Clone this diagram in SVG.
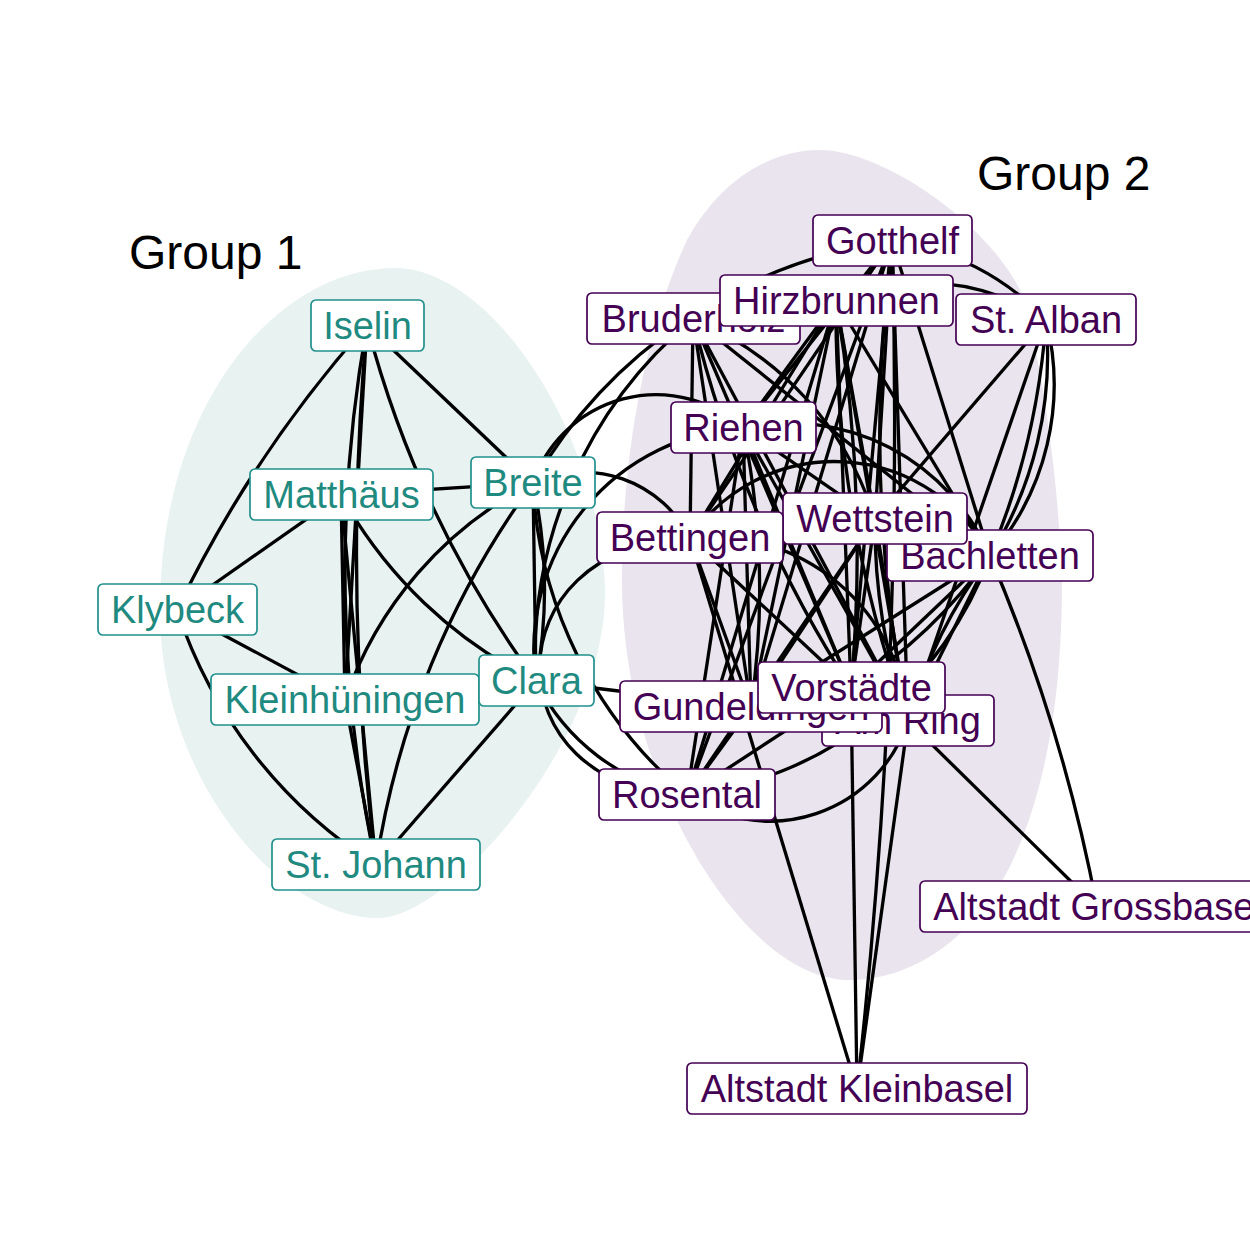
<svg xmlns="http://www.w3.org/2000/svg" width="1250" height="1250" viewBox="0 0 1250 1250">
<style>
.e{fill:none;stroke:#000;stroke-width:3.3}
.b1{fill:#fff;stroke:#21908C;stroke-width:1.7}
.b2{fill:#fff;stroke:#440154;stroke-width:1.7}
.t1{font-family:"Liberation Sans",Arial,sans-serif;font-size:38px;fill:#1f8a80;text-anchor:middle}
.t2{font-family:"Liberation Sans",Arial,sans-serif;font-size:38px;fill:#440154;text-anchor:middle}
.title{font-family:"Liberation Sans",Arial,sans-serif;font-size:48px;fill:#000}
</style>
<rect width="1250" height="1250" fill="#fff"/>
<g id="hulls">
<path id="hull1" fill="#e8f2f1" d="M395,268 C490,268 600,430 605,590 C607,740 450,918 378,918 C280,918 160,780 160,610 C160,400 280,268 395,268 Z"/>
<path id="hull2" fill="#e9e4ed" d="M820,150 C880,150 985,220 1020,290 C1040,350 1058,470 1062,580 C1062,700 1045,790 1013,860 C975,940 910,980 850,980 C790,980 730,920 687,840 C650,770 622,680 622,580 C622,440 650,320 687,240 C720,180 770,150 820,150 Z"/>
</g>
<text class="title" x="129" y="269">Group 1</text>
<text class="title" x="977" y="190">Group 2</text>
<g id="edges" class="e">
<path class="e" d="M367,325 A1230,1230 0 0 0 177,610"/>
<path class="e" d="M367,325 A1400,1400 0 0 0 376,865"/>
<path class="e" d="M367,325 A2500,2500 0 0 0 376,865"/>
<path class="e" d="M367,325 L345,700"/>
<path class="e" d="M341,495 L376,865"/>
<path class="e" d="M345,700 L376,865"/>
<path class="e" d="M341,495 L345,700"/>
<path class="e" d="M367,325 L533,483"/>
<path class="e" d="M367,325 A1060,1060 0 0 0 536,681"/>
<path class="e" d="M341,495 L533,483"/>
<path class="e" d="M341,495 L177,610"/>
<path class="e" d="M341,495 A450,450 0 0 0 536,681"/>
<path class="e" d="M533,483 A382,382 0 0 0 345,700"/>
<path class="e" d="M533,483 A865,865 0 0 0 376,865"/>
<path class="e" d="M533,483 L536,681"/>
<path class="e" d="M533,483 A500,500 0 0 1 536,681"/>
<path class="e" d="M177,610 L345,700"/>
<path class="e" d="M177,610 A480,480 0 0 0 376,865"/>
<path class="e" d="M536,681 L376,865"/>
<path class="e" d="M533,483 A494,494 0 0 1 892,241"/>
<path class="e" d="M536,681 A437,437 0 0 1 693,319"/>
<path class="e" d="M533,483 A130,130 0 0 1 743,428"/>
<path class="e" d="M536,681 A222,222 0 0 1 743,428"/>
<path class="e" d="M533,483 A120,120 0 0 1 690,538"/>
<path class="e" d="M690,538 C490,545 490,790 687,795"/>
<path class="e" d="M536,681 A209,209 0 0 0 687,795"/>
<path class="e" d="M533,483 A432,432 0 0 0 687,795"/>
<path class="e" d="M536,681 L751,707"/>
<path class="e" d="M892,241 L743,428"/>
<path class="e" d="M892,241 L690,538"/>
<path class="e" d="M892,241 L751,707"/>
<path class="e" d="M892,241 L687,795"/>
<path class="e" d="M892,241 L851,688"/>
<path class="e" d="M892,241 L908,721"/>
<path class="e" d="M892,241 A1500,1500 0 0 0 908,721"/>
<path class="e" d="M892,241 L875,519"/>
<path class="e" d="M892,241 L990,556"/>
<path class="e" d="M892,241 A257,257 0 0 1 1046,320"/>
<path class="e" d="M892,241 A6000,6000 0 0 1 857,1089"/>
<path class="e" d="M836,301 A220,220 0 0 1 1046,320"/>
<path class="e" d="M836,301 L851,688"/>
<path class="e" d="M836,301 A1500,1500 0 0 1 851,688"/>
<path class="e" d="M836,301 L908,721"/>
<path class="e" d="M836,301 A1200,1200 0 0 0 908,721"/>
<path class="e" d="M836,301 L875,519"/>
<path class="e" d="M836,301 L990,556"/>
<path class="e" d="M836,301 L751,707"/>
<path class="e" d="M836,301 L687,795"/>
<path class="e" d="M836,301 L690,538"/>
<path class="e" d="M836,301 L743,428"/>
<path class="e" d="M693,319 L690,538"/>
<path class="e" d="M693,319 L851,688"/>
<path class="e" d="M693,319 A1200,1200 0 0 0 851,688"/>
<path class="e" d="M693,319 L908,721"/>
<path class="e" d="M693,319 A319,319 0 0 1 875,519"/>
<path class="e" d="M693,319 L751,707"/>
<path class="e" d="M693,319 L990,556"/>
<path class="e" d="M1046,320 A743,743 0 0 1 990,556"/>
<path class="e" d="M1046,320 A379,379 0 0 1 990,556"/>
<path class="e" d="M1046,320 A261,261 0 0 1 990,556"/>
<path class="e" d="M1046,320 L875,519"/>
<path class="e" d="M1046,320 L908,721"/>
<path class="e" d="M743,428 A218,218 0 0 1 990,556"/>
<path class="e" d="M743,428 L851,688"/>
<path class="e" d="M743,428 L908,721"/>
<path class="e" d="M743,428 L875,519"/>
<path class="e" d="M743,428 L751,707"/>
<path class="e" d="M743,428 A800,800 0 0 1 751,707"/>
<path class="e" d="M743,428 L687,795"/>
<path class="e" d="M875,519 L851,688"/>
<path class="e" d="M875,519 L908,721"/>
<path class="e" d="M875,519 A600,600 0 0 0 908,721"/>
<path class="e" d="M875,519 L751,707"/>
<path class="e" d="M875,519 L687,795"/>
<path class="e" d="M875,519 L690,538"/>
<path class="e" d="M875,519 L990,556"/>
<path class="e" d="M690,538 A197,197 0 0 1 908,721"/>
<path class="e" d="M690,538 L851,688"/>
<path class="e" d="M690,538 L751,707"/>
<path class="e" d="M690,538 L857,1089"/>
<path class="e" d="M690,538 A175,175 0 0 1 990,556"/>
<path class="e" d="M990,556 L851,688"/>
<path class="e" d="M990,556 A500,500 0 0 1 851,688"/>
<path class="e" d="M990,556 L908,721"/>
<path class="e" d="M990,556 A500,500 0 0 0 908,721"/>
<path class="e" d="M990,556 L751,707"/>
<path class="e" d="M687,795 A366,366 0 0 0 990,556"/>
<path class="e" d="M990,556 A1700,1700 0 0 1 1097,907"/>
<path class="e" d="M851,688 L857,1089"/>
<path class="e" d="M851,688 L687,795"/>
<path class="e" d="M851,688 L751,707"/>
<path class="e" d="M908,721 L857,1089"/>
<path class="e" d="M908,721 L1097,907"/>
<path class="e" d="M687,795 A145,145 0 0 0 908,721"/>
<path class="e" d="M751,707 L687,795"/>
</g>
<g id="nodes">
<g id="n-iselin"><rect class="b1" x="311" y="300" width="113" height="51" rx="5"/><text class="t1" x="367.5" y="339">Iselin</text></g>
<g id="n-matthaeus"><rect class="b1" x="250" y="469" width="183" height="51" rx="5"/><text class="t1" x="341.5" y="508">Matthäus</text></g>
<g id="n-breite"><rect class="b1" x="471" y="457" width="124" height="51" rx="5"/><text class="t1" x="533" y="496">Breite</text></g>
<g id="n-klybeck"><rect class="b1" x="98" y="584" width="159" height="51" rx="5"/><text class="t1" x="177.5" y="623">Klybeck</text></g>
<g id="n-kleinhueningen"><rect class="b1" x="211" y="674" width="268" height="51" rx="5"/><text class="t1" x="345" y="713">Kleinhüningen</text></g>
<g id="n-clara"><rect class="b1" x="479" y="655" width="115" height="51" rx="5"/><text class="t1" x="536.5" y="694">Clara</text></g>
<g id="n-stjohann"><rect class="b1" x="272" y="839" width="208" height="51" rx="5"/><text class="t1" x="376" y="878">St. Johann</text></g>
<g id="n-gotthelf"><rect class="b2" x="813" y="215" width="159" height="51" rx="5"/><text class="t2" x="892.5" y="254">Gotthelf</text></g>
<g id="n-bruderholz"><rect class="b2" x="587" y="293" width="213" height="51" rx="5"/><text class="t2" x="693.5" y="332">Bruderholz</text></g>
<g id="n-hirzbrunnen"><rect class="b2" x="720" y="275" width="233" height="51" rx="5"/><text class="t2" x="836.5" y="314">Hirzbrunnen</text></g>
<g id="n-stalban"><rect class="b2" x="956" y="294" width="180" height="51" rx="5"/><text class="t2" x="1046" y="333">St. Alban</text></g>
<g id="n-riehen"><rect class="b2" x="671" y="402" width="145" height="51" rx="5"/><text class="t2" x="743.5" y="441">Riehen</text></g>
<g id="n-bachletten"><rect class="b2" x="887" y="530" width="206" height="51" rx="5"/><text class="t2" x="990" y="569">Bachletten</text></g>
<g id="n-wettstein"><rect class="b2" x="783" y="493" width="184" height="51" rx="5"/><text class="t2" x="875" y="532">Wettstein</text></g>
<g id="n-bettingen"><rect class="b2" x="597" y="512" width="186" height="51" rx="5"/><text class="t2" x="690" y="551">Bettingen</text></g>
<g id="n-amring"><rect class="b2" x="822" y="695" width="172" height="51" rx="5"/><text class="t2" x="908" y="734">Am Ring</text></g>
<g id="n-gundeldingen"><rect class="b2" x="620" y="681" width="262" height="51" rx="5"/><text class="t2" x="751" y="720">Gundeldingen</text></g>
<g id="n-vorstaedte"><rect class="b2" x="758" y="662" width="187" height="51" rx="5"/><text class="t2" x="851.5" y="701">Vorstädte</text></g>
<g id="n-rosental"><rect class="b2" x="599" y="769" width="176" height="51" rx="5"/><text class="t2" x="687" y="808">Rosental</text></g>
<g id="n-altstadtgrossbasel"><rect class="b2" x="920" y="881" width="356" height="51" rx="5"/><text class="t2" x="1098" y="920">Altstadt Grossbasel</text></g>
<g id="n-altstadtkleinbasel"><rect class="b2" x="687" y="1063" width="340" height="51" rx="5"/><text class="t2" x="857" y="1102">Altstadt Kleinbasel</text></g>
</g>
</svg>
